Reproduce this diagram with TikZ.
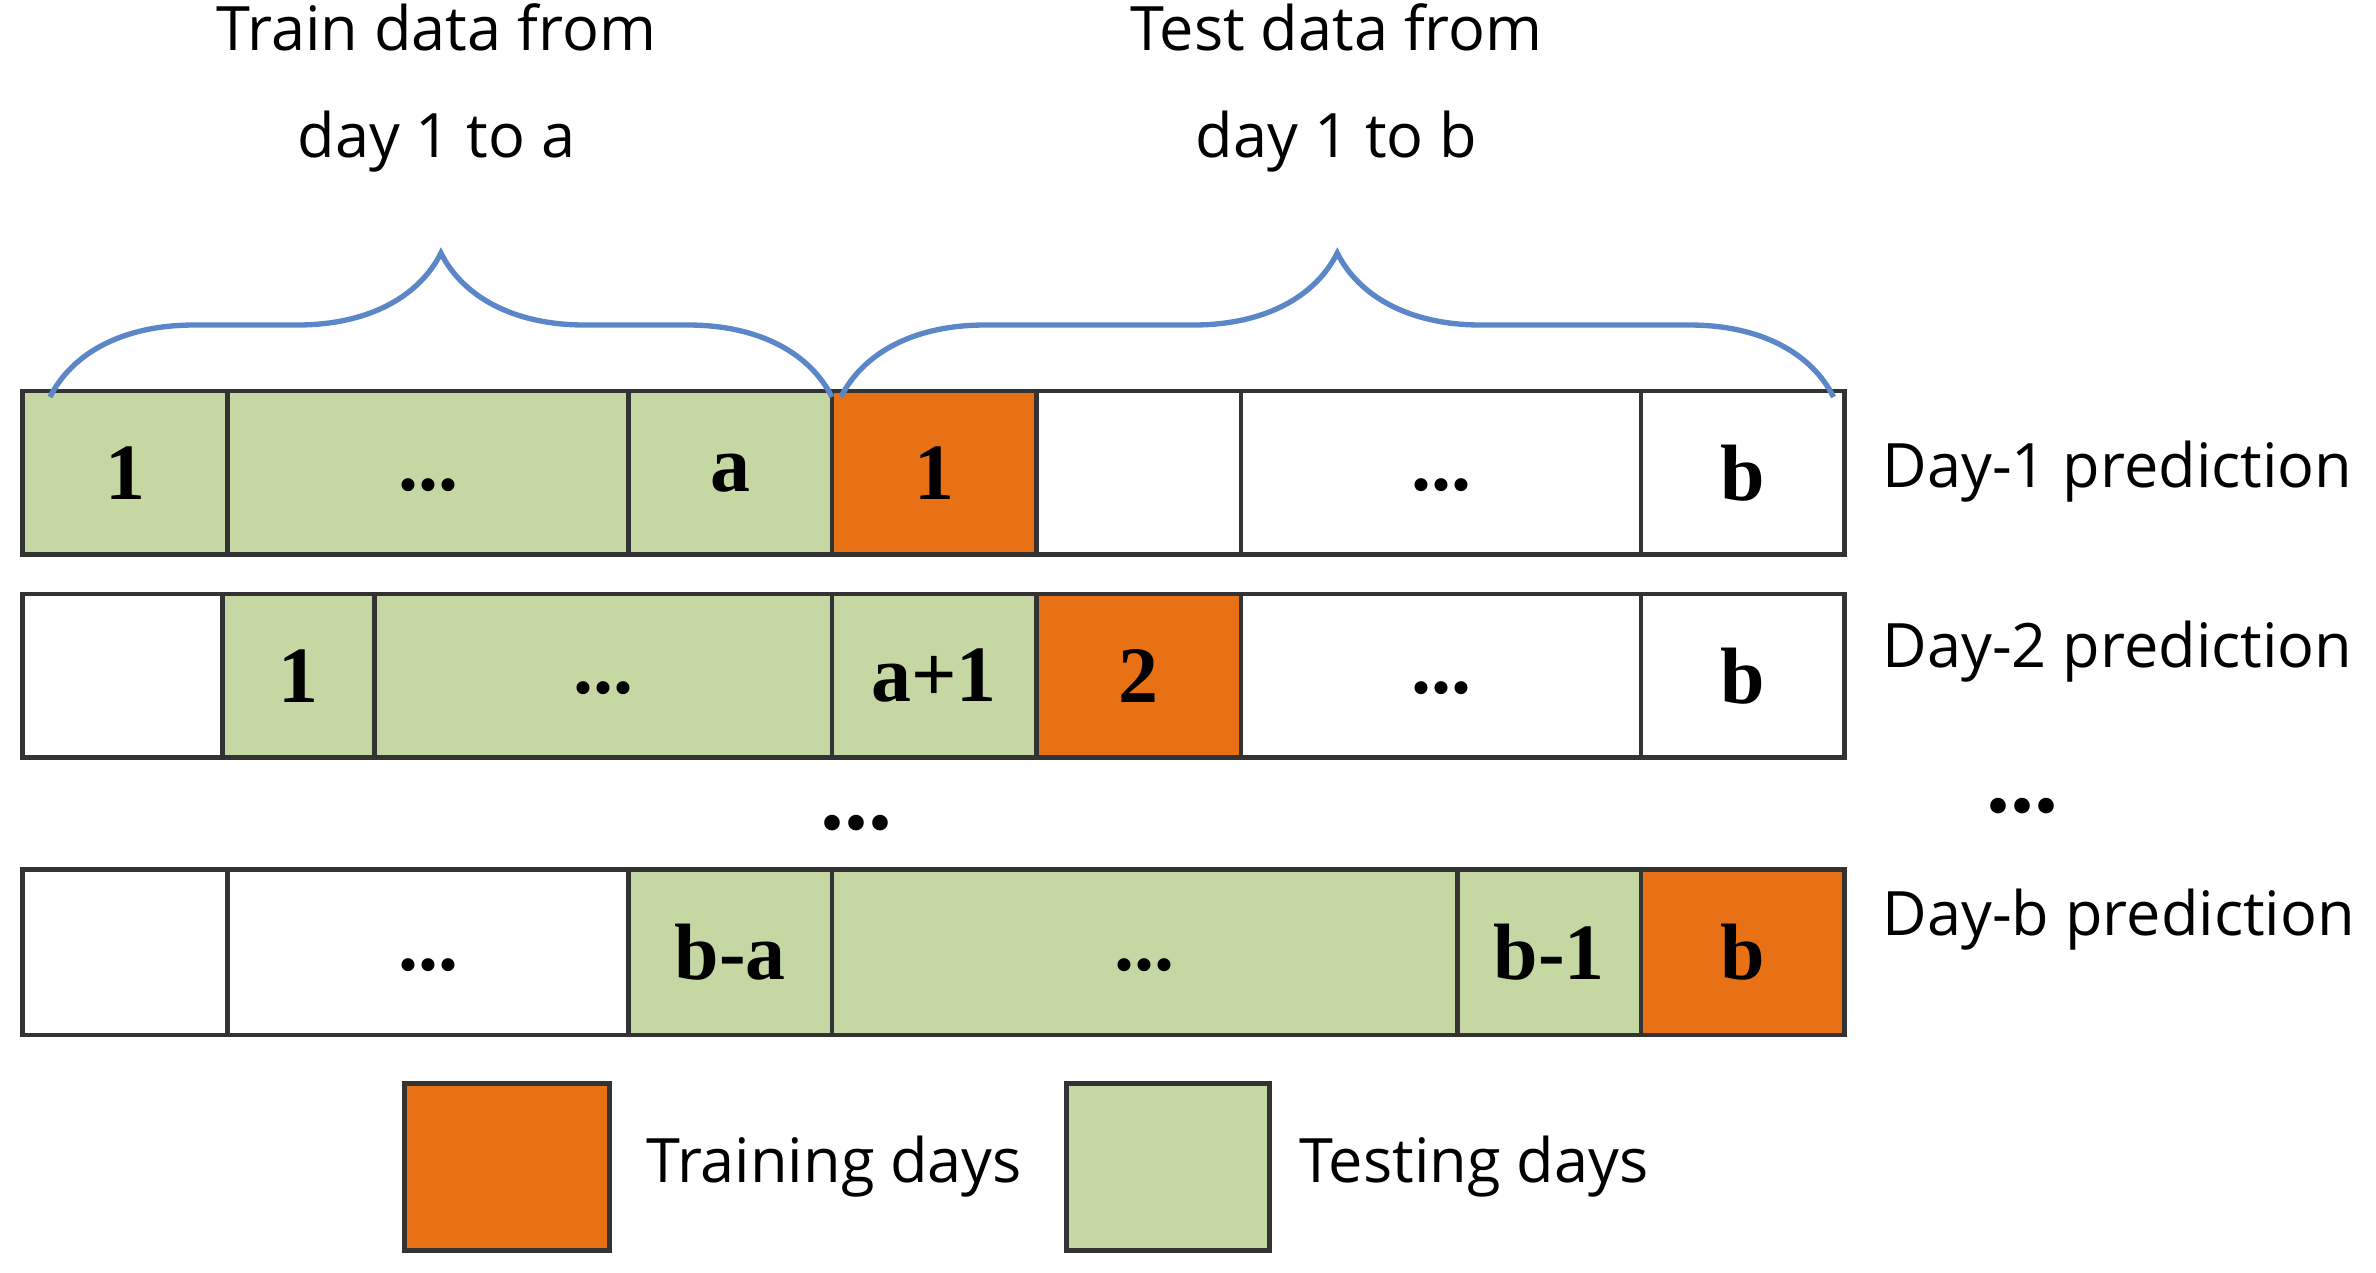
\documentclass[tikz,border=0pt]{standalone}
\usepackage{fontspec}
\setmainfont{Liberation Serif}
\newfontfamily\labelfont{Open Sans}
\usetikzlibrary{decorations.pathreplacing}
\definecolor{trainc}{RGB}{233,113,21}
\definecolor{testc}{RGB}{197,216,164}
\definecolor{bracec}{RGB}{91,134,200}
\tikzset{
  cell/.style = {draw=black!80, line width=0.9pt},
  celltext/.style = {font=\bfseries\fontsize{15}{17}\selectfont},
  daylabel/.style = {font=\labelfont\fontsize{11.5}{13}\selectfont, anchor=west},
  dotsmark/.style = {font=\bfseries\fontsize{18}{18}\selectfont}
}
\begin{document}
\begin{tikzpicture}[x=0.1mm, y=-0.1mm]
    \useasboundingbox (0,0) rectangle (1568,840);

    % rows: x1/x2/fill/text
    \foreach \xa/\xb/\col/\txt in {15/150/testc/1, 150/415/testc/\raisebox{-1ex}{...}, 415/549/testc/a,
        549/684/trainc/1, 684/819/white/, 819/1083/white/\raisebox{-1ex}{...}, 1083/1217/white/b}
        {\draw [cell, fill=\col] (\xa,258) rectangle (\xb,366)
            node [midway, celltext] {\txt};}
    \foreach \xa/\xb/\col/\txt in {15/147/white/, 147/247/testc/1, 247/549/testc/\raisebox{-1ex}{...},
        549/684/testc/a+1, 684/819/trainc/2, 819/1083/white/\raisebox{-1ex}{...}, 1083/1217/white/b}
        {\draw [cell, fill=\col] (\xa,392) rectangle (\xb,500)
            node [midway, celltext] {\txt};}
    \foreach \xa/\xb/\col/\txt in {15/150/white/, 150/415/white/\raisebox{-1ex}{...}, 415/549/testc/b-a,
        549/962/testc/\raisebox{-1ex}{...}, 962/1083/testc/b-1, 1083/1217/trainc/b}
        {\draw [cell, fill=\col] (\xa,574) rectangle (\xb,683)
            node [midway, celltext] {\txt};}

    \node [daylabel] (day1) at (1230,311) {Day-1 prediction};
    \node [daylabel] (day2) at (1230,430) {Day-2 prediction};
    \node [daylabel] (dayb) at (1230,607) {Day-b prediction};
    \node [dotsmark] (vdots1) at (1335,532) {...};
    \node [dotsmark] (vdots2) at (565,543) {...};

    % braces
    \draw [bracec, line width=1pt, decorate,
        decoration={brace, amplitude=9.5mm}] (33,262) -- (549,262);
    \draw [bracec, line width=1pt, decorate,
        decoration={brace, amplitude=9.5mm}] (555,262) -- (1210,262);
    \node [font=\labelfont\fontsize{11.5}{20}\selectfont, align=center] (train)
        at (288,58) {Train data from\\day 1 to a};
    \node [font=\labelfont\fontsize{11.5}{20}\selectfont, align=center] (test)
        at (882,58) {Test data from\\day 1 to b};

    % legend
    \draw [cell, fill=trainc] (267,715) rectangle (402,825);
    \node [daylabel] (trainlbl) at (414,770) {Training days};
    \draw [cell, fill=testc] (704,715) rectangle (838,825);
    \node [daylabel] (testlbl) at (845,770) {Testing days};
\end{tikzpicture}
\end{document}
